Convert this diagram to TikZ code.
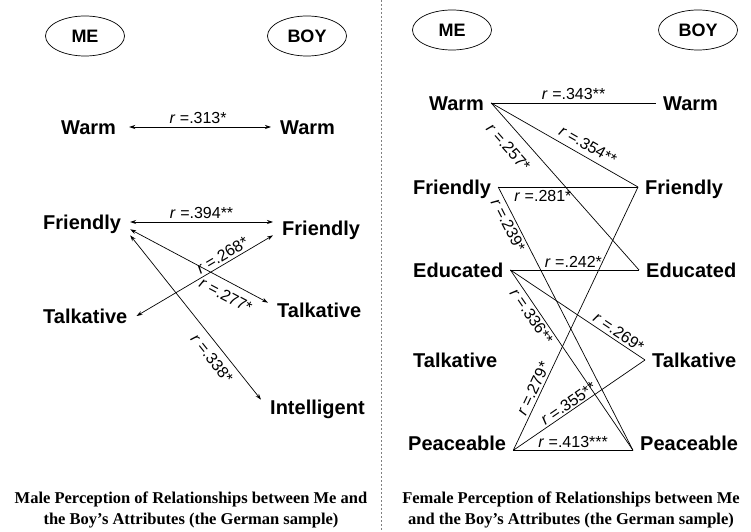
\documentclass[tikz,border=0pt]{standalone}
\usepackage{fontspec}
\setmainfont{Liberation Serif}
\setsansfont{Liberation Sans}
\usepackage{tikz}
\usetikzlibrary{arrows.meta, calc, shapes.geometric}
\newcommand\attrfont{\sffamily\bfseries\fontsize{20bp}{24bp}\selectfont}
\newcommand\corrfont{\sffamily\fontsize{16bp}{18bp}\selectfont}
\newcommand\capfont{\rmfamily\bfseries\fontsize{16.5bp}{20.5bp}\selectfont}
\newcommand\rr{\textit{r} =}
\tikzset{
  attr/.style={font=\attrfont, text height=14.3bp, text depth=0bp, inner ysep=0bp, anchor=west},
  oval/.style={draw, ellipse, font=\sffamily\bfseries\fontsize{18bp}{20bp}\selectfont, minimum width=79bp, minimum height=40bp, inner sep=0bp, line width=0.7bp},
  link/.style={line width=0.7bp},
  both/.style={link, {Stealth[length=6bp,width=4bp]}-{Stealth[length=6bp,width=4bp]}},
  rlab/.style={font=\corrfont, inner sep=2.5bp},
  caption/.style={font=\capfont, align=center}
}

\begin{document}
\begin{tikzpicture}[x=1bp, y=-1bp]
    \useasboundingbox (0,0) rectangle (751,532);

    % Divider
    \draw[gray, line width=0.8bp, dash pattern=on 2bp off 2bp] (381,0) -- (381,532);

    % Left panel: male sample
    \node[oval] (meL) at (85,36) {ME};
    \node[oval] (boyL) at (307,36) {BOY};
    \begin{scope}[every node/.append style={inner xsep=9bp}]
    \node[attr] (wL) at (52,127) {Warm};
    \node[attr] (wR) at (271,127) {Warm};
    \node[attr] (fL) at (34,222) {Friendly};
    \node[attr] (fR) at (273,228) {Friendly};
    \node[attr] (tL) at (34,316) {Talkative};
    \node[attr] (tR) at (268,310) {Talkative};
    \node[attr] (iR) at (261,407) {Intelligent};
    \end{scope}
    \draw[both, shorten <=4bp] (wL) -- node[rlab, above] {\rr.313*} (wR);
    \draw[both] (fL.east) -- node[rlab, above] {\rr.394**} (fL.east -| fR.west);
    \draw[both] (tL.east) -- node[rlab, above, sloped, pos=0.66] {\rr.268*} (fR.south west);
    \draw[both] (fL.south east) -- node[rlab, below=5bp, sloped, pos=0.74] {\rr.277*} (tR.north west);
    \draw[both] ($(fL.south east)+(0,6)$) -- node[rlab, below=4bp, sloped, pos=0.7] {\rr.338*} (iR.north west);

    % Right panel: female sample
    \node[oval] (meR) at (452,30) {ME};
    \node[oval] (boyR) at (698,30) {BOY};
    \begin{scope}[every node/.append style={inner xsep=7bp}]
    \node[attr] (wL2) at (422,103) {Warm};
    \node[attr] (wR2) at (656,103) {Warm};
    \node[attr] (fL2) at (406,187) {Friendly};
    \node[attr] (fR2) at (638,187) {Friendly};
    \node[attr] (eL2) at (406,270) {Educated};
    \node[attr] (eR2) at (639,270) {Educated};
    \node[attr] (tL2) at (406,360) {Talkative};
    \node[attr] (tR2) at (645,360) {Talkative};
    \node[attr] (pL2) at (401,443) {Peaceable};
    \node[attr] (pR2) at (633,443) {Peaceable};
    \end{scope}
    \draw[link] (wL2.east) -- node[rlab, above] {\rr.343**} (wR2.west);
    \draw[link] (wL2.east) -- node[rlab, above=3bp, sloped, pos=0.62] {\rr.354**} (fR2.west);
    \draw[link] (wL2.east) -- node[rlab, below=8bp, sloped, pos=0.2] {\rr.257*} (eR2.west);
    \draw[link] (fL2.east) -- node[rlab, below, pos=0.32] {\rr.281*} (fR2.west);
    \draw[link] (fL2.east) -- node[rlab, below, sloped, pos=0.13] {\rr.239*} (pR2.south west);
    \draw[link] (pL2.south east) -- node[rlab, above, sloped, pos=0.22] {\rr.279*} (fR2.west);
    \draw[link] (eL2.east) -- node[rlab, above, pos=0.49] {\rr.242*} (eR2.west);
    \draw[link] (eL2.east) -- node[rlab, above, sloped, pos=0.77] {\rr.269*} (tR2.west);
    \draw[link] (eL2.east) -- node[rlab, below, sloped, pos=0.23] {\rr.336**} (pR2.south west);
    \draw[link] (pL2.south east) -- node[rlab, above=-1bp, sloped, pos=0.45] {\rr.355**} (tR2.west);
    \draw[link] (pL2.south east) -- node[rlab, above] {\rr.413***} (pR2.south west);

    % Captions
    \node[caption] (capL) at (191,510) {Male Perception of Relationships between Me and\\the Boy’s Attributes (the German sample)};
    \node[caption] (capR) at (571,510) {Female Perception of Relationships between Me\\and the Boy’s Attributes (the German sample)};
\end{tikzpicture}
\end{document}
